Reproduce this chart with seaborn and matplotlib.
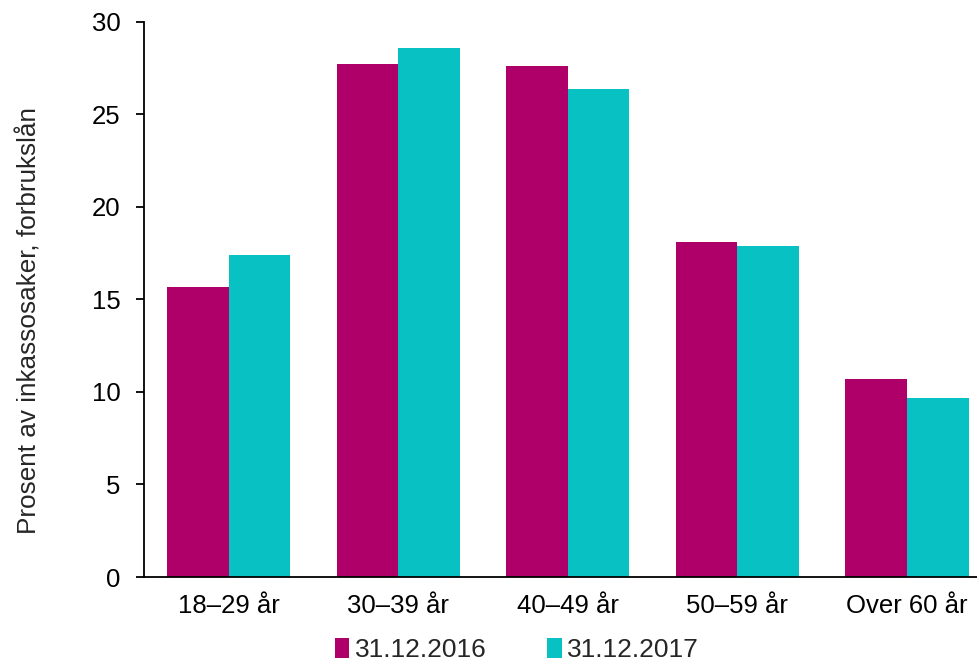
import matplotlib
matplotlib.use("Agg")
import matplotlib.pyplot as plt
import seaborn as sns
import pandas as pd

categories = ["18–29 år", "30–39 år", "40–49 år", "50–59 år", "Over 60 år"]
series_names = ["31.12.2016", "31.12.2017"]
values_2016 = [15.7, 27.7, 27.6, 18.1, 10.7]
values_2017 = [17.4, 28.6, 26.4, 17.9, 9.7]
y_ticks = [0, 5, 10, 15, 20, 25, 30]
y_label = "Prosent av inkassosaker, forbrukslån"

colors = ["#AE0068", "#08C1C3"]

df = pd.DataFrame({
    "Alder": categories * 2,
    "Dato": [series_names[0]] * len(categories) + [series_names[1]] * len(categories),
    "Prosent": values_2016 + values_2017,
})

sns.set_theme(style="white")
plt.rcParams["font.family"] = ["Liberation Sans", "DejaVu Sans"]

fig = plt.figure(figsize=(9.77, 6.64), dpi=100)
ax = fig.add_axes([0.1474, 0.131, 0.8526, 0.836])

sns.barplot(data=df, x="Alder", y="Prosent", hue="Dato", palette=colors,
            width=0.728, gap=0, saturation=1, linewidth=0, ax=ax, legend=True)

ax.set_ylim(0, 30)
ax.set_yticks(y_ticks)
# the last category sits close to the right edge, the axis line runs to the border
ax.set_xlim(-0.5, 4.414)
ax.tick_params(axis="y", labelsize=18.5, length=6, width=1.3, direction="out",
               left=True, pad=11, colors="black")
ax.tick_params(axis="x", labelsize=18.5, length=0, pad=12.5, colors="black")
ax.set_xlabel("")
ax.set_ylabel(y_label, fontsize=18.8)
ax.yaxis.set_label_coords(-0.1225, 0.463)

for side in ["top", "right"]:
    ax.spines[side].set_visible(False)
for side in ["left", "bottom"]:
    ax.spines[side].set_color("black")
    ax.spines[side].set_linewidth(1.3)

handles, labels = ax.get_legend_handles_labels()
ax.get_legend().remove()
fig.legend(handles, labels, loc="center", bbox_to_anchor=(0.529, 0.021),
           ncol=2, frameon=False, fontsize=19, handlelength=0.55, handleheight=0.8,
           handletextpad=0.2, columnspacing=2.3, borderpad=0)

fig.savefig("out.png", dpi=100)
